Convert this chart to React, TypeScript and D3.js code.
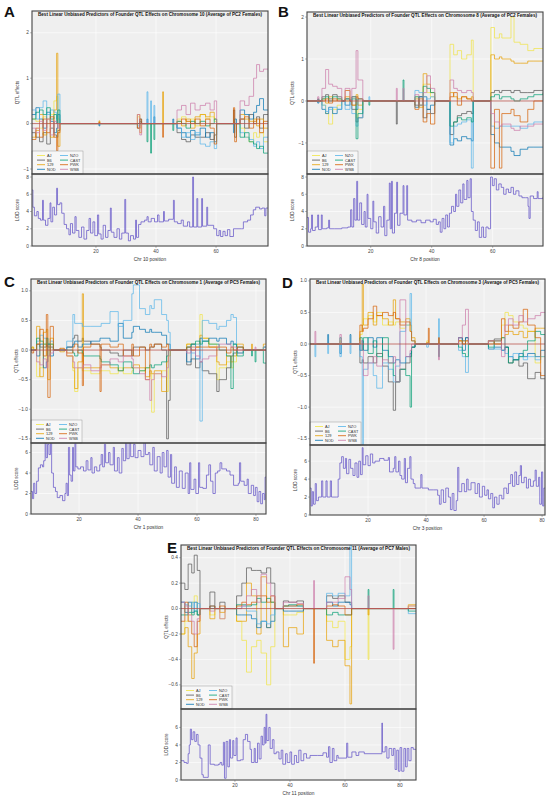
import React from "react";
import * as d3 from "d3";

// founder strains and their colours
const founders = ["AJ", "B6", "129", "NOD", "NZO", "CAST", "PWK", "WSB"];
const founderColors = ["#F0E442", "#555555", "#E69F00", "#0072B2", "#56B4E9", "#009E73", "#D55E00", "#CC79A7"];

// effect rows: [position, AJ, B6, 129, NOD, NZO, CAST, PWK, WSB]; a row with only a position = all zero
const aEff = [
  [-1.3, 0.1, -0.2, -0.3, 0.2, 0.3, 0.1, -0.35, -0.1],
  [0.0, 0.05, -0.3, -0.15, 0.35, 0.1, 0.25, -0.1, -0.2],
  [1.2, -0.1, -0.4, 0.2, 0.1, 0.35, 0.3, -0.3, 0.05],
  [2.4, 0.15, -0.2, -0.25, -0.1, 0.5, 0.2, 0.1, -0.15],
  [3.6, 0, -0.45, 0.1, 0.25, 0.2, 0.35, -0.2, 0.1],
  [4.8, 0.2, -0.1, -0.3, 0.05, 0.3, 0.1, 0.15, -0.25],
  [6.0, 0.5, -0.25, 0.3, -0.2, 0.25, 0.2, -0.3, 0.05],
  [6.9, 0.6, -0.3, 1.55, -0.1, 0.1, 0, -0.6, 0],
  [7.3, 0.1, -0.15, -0.5, 0.2, 0.65, 0.3, -0.2, -0.1],
  [8.0],
  [21.0, 0, 0, 0.06, -0.05, 0, 0, 0.03, 0], [21.3],
  [33.8, 0.15, -0.1, 0.2, 0, -0.05, 0, -0.1, 0.2],
  [34.6, -0.1, 0.05, -0.2, 0.1, 0, 0, 0.1, -0.25],
  [35.2],
  [37.0, 0, 0, 0, 0.1, 0.7, -0.4, 0, 0], [37.3],
  [38.2, 0, 0, 0, 0, 0.5, -0.65, 0, 0], [38.5],
  [39.3, 0, 0, 0, 0.15, 0.4, -0.35, 0, 0], [39.6],
  [42.2, 0, 0, 0.7, 0, 0, 0, -0.3, 0], [42.5],
  [45.6, 0, 0, 0, 0.1, 0, -0.15, 0, 0], [45.9],
  [47.0, 0.1, -0.2, 0.05, -0.1, -0.1, 0.05, 0, 0.3],
  [48.5, 0.15, -0.35, -0.05, -0.2, -0.3, 0, 0.1, 0.4],
  [50.0, 0.05, -0.4, 0.1, -0.3, -0.2, -0.1, 0.05, 0.2],
  [51.5, 0.1, -0.25, -0.1, -0.15, -0.35, 0.05, 0, 0.45],
  [53.0, -0.05, -0.3, 0.15, -0.25, -0.2, 0, 0.1, 0.3],
  [54.7, 0.2, -0.3, 0.2, -0.1, -0.45, 0.05, -0.05, 0.4],
  [56.5, 0.1, -0.2, 0.15, -0.3, -0.5, -0.05, 0.1, 0.45],
  [58.0, 0.15, -0.35, 0.25, -0.2, -0.4, 0, -0.1, 0.3],
  [59.4, 0.05, -0.25, 0.1, -0.4, -0.55, 0.1, -0.45, 0.5],
  [60.2],
  [65.8, 0, 0.3, 0, -0.2, 0, 0, 0.35, 0],
  [66.2, 0, -0.3, 0, 0.1, 0, 0, -0.4, 0],
  [66.8],
  [68.0, -0.1, 0.1, 0.2, 0.3, -0.2, -0.3, 0.1, 0.5],
  [69.5, -0.3, -0.1, 0.1, 0.2, -0.3, -0.2, 0.15, 0.4],
  [71.0, -0.4, 0.2, 0.05, 0.1, -0.35, -0.4, -0.1, 0.6],
  [72.5, -0.2, 0, 0.1, 0.25, -0.5, -0.45, 0.05, 1.0],
  [73.5, -0.3, 0.15, -0.05, 0.4, -0.4, -0.55, 0.1, 1.3],
  [74.5, -0.2, -0.1, 0.1, 0.55, -0.55, -0.5, -0.2, 1.15],
  [75.8, -0.4, 0.2, -0.1, 0.3, -0.3, -0.65, 0.05, 1.2],
  [77.3, -0.4, 0.2, -0.1, 0.3, -0.3, -0.65, 0.05, 1.2],
];

const bEff = [
  [-0.9],
  [2.6, 0, 0.05, 0, -0.05, 0, 0.03, 0, 0.1], [3.0],
  [4.0, -0.1, 0.1, 0.05, -0.2, -0.1, 0.05, 0, 0.3],
  [5.2, -0.3, 0.15, -0.05, -0.3, -0.25, 0.1, 0.05, 0.75],
  [6.2, -0.55, 0.05, 0.1, -0.15, -0.2, 0, -0.05, 0.4],
  [7.5, -0.2, 0.15, 0, -0.3, -0.15, 0.1, 0.05, 0.35],
  [9.0, -0.1, 0.1, 0.05, -0.2, -0.2, 0.05, 0, 0.3],
  [10.5],
  [11.6, 0, 0.05, 0.1, -0.1, -0.2, 0.05, 0.25, 0.3],
  [13.2],
  [13.8, -0.1, -0.2, 0.1, 0.1, -0.3, 0.05, -0.1, 0.3],
  [15.2, -0.4, -0.5, 0.15, -0.2, -0.6, -0.9, 0.1, 1.2],
  [15.8, -0.2, -0.4, -0.1, 0.05, -0.4, -0.3, 0.05, 0.5],
  [17.4],
  [19.4, 0, 0, 0, 0, 0.1, -0.1, 0, 0], [19.7],
  [28.4, 0, -0.55, 0, 0, 0, 0, 0, 0.3], [28.7],
  [30.6, 0, 0, 0, 0, 0, 0.5, 0, 0.3], [30.9],
  [34.5, 0.1, -0.1, 0.05, -0.15, 0.25, 0.1, -0.2, 0.15],
  [35.8, -0.1, 0.1, -0.15, 0.1, 0.2, -0.1, 0.05, -0.1],
  [37.2, 0.4, -0.4, 0.65, 0.1, -0.1, 0.35, -0.5, 0.2],
  [38.4, 0.2, -0.2, 0.4, -0.2, 0.05, 0.3, -0.3, 0.6],
  [39.6, 0.1, -0.3, 0.2, -0.1, 0.1, 0.2, -0.55, 0.3],
  [41.0],
  [46.0, 1.35, -0.8, 0.2, -1.05, -1.0, -0.6, 0.1, 0.5],
  [47.2, 1.1, -0.5, 0.1, -0.9, -0.6, -0.5, 0.2, 0.3],
  [48.4, 1.2, -0.35, 0.05, -0.95, -0.55, -0.4, -0.1, 0.25],
  [49.8, 1.0, -0.3, 0.1, -0.85, -0.5, -0.45, 0.1, 0.2],
  [51.5, 1.1, -0.25, 0.05, -0.9, -0.45, -0.4, 0.05, 0.25],
  [53.0, 1.45, -0.3, 0.1, -0.95, -1.6, -0.5, 0, 0.2],
  [53.6],
  [59.4, 1.75, 0.2, 1.1, -0.8, -0.6, 0.1, -1.6, -0.3],
  [60.6, 1.5, 0.25, 1.0, -1.0, -0.65, 0.15, -0.2, -0.5],
  [62.2, 1.6, 0.2, 1.05, -1.1, -0.6, 0.05, -1.6, -0.6],
  [63.0, 1.5, 0.25, 1.0, -1.1, -0.6, 0.1, -0.3, -0.55],
  [66.0, 2.0, 0.2, 0.95, -1.2, -0.6, 0.05, -0.2, -0.65],
  [67.0, 1.4, 0.25, 0.9, -1.3, -0.6, 0, -0.35, -0.7],
  [69.0, 1.35, 0.2, 0.9, -1.15, -0.65, 0.05, -0.5, -0.6],
  [71.5, 1.2, 0.2, 0.95, -1.1, -0.55, 0.1, -0.2, -0.6],
  [73.5, 1.25, 0.25, 0.95, -1.1, -0.5, 0.15, 0, -0.55],
  [76.5, 1.25, 0.25, 0.95, -1.1, -0.5, 0.2, 0, -0.55],
];

const cEff = [
  [3.7],
  [4.0, 0.05, 0, 0.05, 0, 0, 0, -0.05, 0], [4.6],
  [5.6, -0.45, 0.1, 0.4, -0.1, 0.15, 0.2, 0.1, -0.2],
  [6.7, -0.3, 0.05, -0.45, 0.1, 0.25, 0.15, 0.35, -0.25],
  [7.9, 0.1, 0.05, 0.3, -0.3, 0.2, 0.1, -0.1, -0.15],
  [8.9, -0.2, 0.1, 0.35, -0.2, 0.2, 0.2, 0.6, -0.3],
  [9.4, -0.1, 0.05, -0.5, 0.1, 0.1, 0.1, -0.8, -0.1],
  [10.2, 0.1, 0.05, 0.2, -0.1, 0.15, 0.1, 0.4, -0.05],
  [11.3],
  [13.5, 0.02, 0, -0.03, 0, 0, 0, 0.03, 0], [15.0],
  [15.8, -0.1, 0.05, -0.1, 0.05, 0.15, 0, -0.05, -0.1],
  [17.9, -0.35, 0.2, -0.3, 0.1, 0.6, -0.05, 0.05, -0.2],
  [18.5, -0.7, 0.25, -0.65, 0.15, 0.45, -0.1, 0.1, -0.3],
  [19.6, -0.3, 0.15, -0.2, 0.05, 0.45, 0, -0.05, -0.3],
  [21.1, -0.35, 0.2, 0.95, 0.1, 0.4, -0.05, -0.6, -0.3],
  [21.5, -0.35, 0.15, -0.3, 0.1, 0.4, -0.1, 0.05, -0.25],
  [24.0, -0.4, 0.1, -0.3, 0.15, 0.4, -0.1, 0.1, -0.35],
  [27.1, -0.35, 0.05, -0.3, 0.2, 0.4, -0.15, -0.7, -0.3],
  [27.5, -0.35, 0, -0.25, 0.2, 0.45, -0.2, 0.1, -0.25],
  [30.5, -0.4, -0.05, -0.3, 0.15, 0.65, -0.25, 0.05, -0.15],
  [33.3, -0.3, -0.1, -0.35, 0.45, 0.4, -0.35, 0.1, -0.2],
  [35.0, -0.4, 0, -0.3, 0.2, 0.5, -0.2, -0.1, -0.1],
  [37.9, -0.35, -0.1, -0.3, 0.3, 0.95, -0.3, 0.1, -0.15],
  [38.4, -0.3, 0.05, -0.25, 0.4, 1.1, -0.4, -0.1, -0.3],
  [40.5, -0.35, 0.05, -0.3, 0.35, 0.7, -0.35, 0.05, -0.4],
  [42.5, -0.3, 0, -0.45, 0.3, 0.6, -0.3, -0.5, -0.5],
  [44.0, -0.4, 0.05, -0.35, 0.35, 0.75, -0.25, 0.1, -0.85],
  [44.6, -1.05, 0.05, -0.4, 0.3, 0.7, -0.3, 0.05, -0.5],
  [45.5, -0.4, 0.1, -0.35, 0.3, 0.85, -0.25, 0.1, -0.4],
  [48.0, -0.35, 0, -0.7, 0.25, 0.6, -0.2, 0.05, -0.45],
  [49.7, -0.7, -1.5, -0.2, 0.1, 0.5, -0.1, 0.1, -0.3],
  [50.3, -0.1, -0.85, 0, 0.1, 0.3, 0, 0, 0],
  [50.9],
  [56.5, 0.1, -0.25, 0.1, -0.2, 0.05, 0.05, 0.05, -0.05],
  [58.0, 0.05, -0.15, 0.1, 0.1, -0.05, 0.1, 0, 0.05],
  [59.5, 0.1, -0.3, 0.05, -0.15, 0.1, 0.15, 0.05, -0.1],
  [61.0, 0.6, -0.2, 0.25, 0.2, -1.2, 0.1, 0.05, -0.2],
  [61.8, 0.2, -0.35, 0.2, 0.15, 0.5, 0.15, 0.05, -0.15],
  [64.0, 0.1, -0.4, 0.05, 0.2, 0.45, 0.1, 0.05, -0.1],
  [66.7, -0.5, -0.7, -0.2, 0.15, 0.35, 0.1, 0.05, 0.05],
  [67.5, -0.3, -0.5, -0.25, 0.2, 0.4, 0, 0.05, 0.1],
  [70.0, -0.2, -0.3, -0.1, 0.1, 0.5, -0.1, -0.05, 0.1],
  [71.5, -0.3, -0.1, -0.2, 0.15, 0.6, -0.65, 0.05, 0.05],
  [72.3, -0.2, -0.05, -0.1, 0.1, 0.55, 0.1, 0, 0.05],
  [73.4],
  [73.6, 0.05, -0.05, 0.1, 0.05, -0.05, -0.1, 0.05, 0], [75.7],
  [78.5, 0, 0, 0.1, 0, 0, -0.1, 0, 0], [78.8],
  [79.7, 0, 0, 0, 0, 0, -0.2, 0, 0.05], [80.0],
  [82.5, 0, 0.05, 0.1, 0, 0.05, -0.22, 0, 0],
  [83.4, 0, 0.05, 0.1, 0, 0.05, -0.22, 0, 0],
];

const dEff = [
  [0],
  [1.7, 0, 0, 0, 0, -0.2, 0, 0, 0.2], [2.0],
  [6.1, 0, 0, 0, 0.15, -0.15, 0, 0, 0], [6.4],
  [10.3, 0.05, 0, 0, -0.15, -0.2, 0.1, 0, 0.15], [10.8],
  [13.8, 0, 0, 0, 0.15, -0.15, 0, 0, 0], [14.1],
  [17.2, 0.15, -0.3, 0.2, -0.1, -0.2, 0.1, 0.3, 0.05],
  [18.0, 0.3, -0.25, 0.95, 0.05, -1.6, -0.1, 0.2, -0.1],
  [18.4, 0.4, -0.3, 0.3, -0.1, -0.4, 0.1, 0.25, -0.5],
  [20.0, 0.45, -0.2, 0.5, 0.1, -0.3, -0.15, 0.4, -0.3],
  [21.8, 0.35, -0.3, 0.3, -0.05, -0.5, 0.05, 0.6, -0.2],
  [23.0, 0.5, -0.15, 0.45, 0.1, -0.7, -0.2, 0.45, -0.35],
  [25.0, 0.3, -0.35, 0.4, -0.1, -0.3, 0.1, 0.5, -0.25],
  [27.0, 0.35, -0.6, 0.3, -0.2, -0.4, -0.3, 0.45, -0.3],
  [28.7, 0.3, -1.05, 0.7, -0.3, -0.6, -0.5, 0.5, -0.2],
  [29.5, 0.35, -0.6, 0.4, -0.25, -0.35, -0.6, 0.4, -0.6],
  [31.0, 0.25, -0.4, 0.35, -0.3, 0.2, -0.4, 0.3, 0.7],
  [33.0, 0.3, -0.3, 0.4, -0.2, 0.3, -0.5, 0.35, -0.2],
  [34.5, 0.2, -0.2, 0.3, -0.15, 0.8, -1.0, 0.2, -0.1],
  [35.0, 0.05, -0.05, 0.1, -0.05, 0.05, -0.05, 0.05, 0],
  [36.2],
  [40.2, 0.05, 0, 0, 0, -0.05, 0, 0.02, 0], [40.8, 0, 0, 0, 0, 0, 0, 0.25, 0], [41.1],
  [44.3, 0, 0, 0, 0, 0.4, -0.2, 0.1, -0.25], [44.6],
  [51.2, 0.05, 0.1, 0.05, 0.1, -0.1, -0.05, 0.05, 0.1],
  [52.5, 0.05, 0.05, 0, -0.1, -0.2, -0.15, 0, 0.3],
  [53.6, 0, 0.1, 0.05, 0.1, -0.45, -0.2, 0.05, 0.55],
  [54.6],
  [61.5, 0.05, 0.05, 0, -0.08, 0.05, -0.05, 0.05, 0.05],
  [63.5, 0, 0.08, 0.05, -0.05, -0.08, 0.05, 0, 0.05],
  [66.0, 0.3, -0.1, 0.1, -0.1, -0.1, 0.1, 0.4, -0.2],
  [67.2, 0.5, -0.05, 0.15, -0.05, -0.15, -0.05, 0.2, 0.3],
  [68.4, 0.45, -0.3, 0.2, -0.2, -0.2, -0.3, 0.3, 0.4],
  [70.0, 0.35, -0.25, 0.15, -0.25, -0.15, -0.25, 0.25, 0.3],
  [72.0, 0.3, -0.35, 0.2, -0.15, -0.2, -0.2, 0.35, 0.45],
  [73.5, 0.25, -0.3, 0.1, -0.2, -0.25, -0.1, 0.55, 0.35],
  [75.0, 0.2, -0.55, 0.2, -0.15, -0.2, 0.05, 0.3, 0.4],
  [77.6, -0.3, -0.45, 0.25, -0.2, -0.25, 0.2, 0.1, 0.45],
  [79.5, -0.2, -0.55, 0.25, -0.1, -0.2, 0.15, -0.5, 0.5],
  [81.0, -0.2, -0.55, 0.25, -0.1, -0.2, 0.15, -0.5, 0.5],
];

const eEff = [
  [0.4, -0.2, 0.2, -0.2, 0.05, 0.05, -0.05, -0.1, 0.05],
  [1.8, -0.1, 0.15, -0.15, -0.03, 0.03, -0.05, 0.05, 0.02],
  [3.0, -0.05, 0.35, -0.3, 0.05, 0.02, -0.03, -0.1, -0.05],
  [4.3, 0.05, 0.28, -0.55, -0.03, 0.05, -0.05, -0.2, -0.1],
  [5.2, 0.1, 0.42, -0.35, 0.05, -0.02, -0.02, -0.3, -0.2],
  [6.3, -0.05, 0.3, -0.2, -0.05, 0.04, -0.05, -0.1, -0.08],
  [7.3],
  [10.9, -0.05, 0.13, -0.08, 0.02, 0, 0, 0.02, -0.02],
  [12.7],
  [14.5, -0.08, 0.05, -0.03, 0, 0, 0, 0.02, -0.08],
  [16.4],
  [20.6, -0.1, 0.1, -0.1, -0.05, 0, 0.03, 0.02, 0],
  [22.5, -0.25, 0.2, -0.1, -0.05, 0.02, 0.03, 0.05, 0.02],
  [24.2, -0.5, 0.32, 0.2, -0.05, -0.02, 0.02, 0.03, 0.1],
  [26.0, -0.3, 0.3, 0.1, -0.08, -0.02, 0.03, 0.05, 0.15],
  [27.9, -0.25, 0.3, -0.2, -0.15, -0.12, 0.08, 0.1, 0.05],
  [29.5, -0.35, 0.28, 0.25, -0.1, -0.1, 0.05, 0.1, 0.27],
  [31.5, -0.6, 0.32, -0.15, -0.15, -0.12, 0.08, 0.05, 0.2],
  [33.0, -0.3, 0.2, 0.05, -0.1, -0.05, 0.05, 0.1, 0.1],
  [34.5],
  [37.6, -0.05, 0.06, -0.3, -0.02, 0.02, 0.02, 0.02, 0.05],
  [39.5, -0.05, 0.05, -0.15, -0.02, 0.02, 0.03, 0.02, 0.05],
  [42.5, -0.03, 0.06, -0.2, -0.02, 0.02, 0.02, 0.03, 0.04],
  [44.9],
  [48.6, 0, 0, 0, 0, 0, 0, -0.43, 0.22], [48.9],
  [53.3, -0.1, 0.1, -0.25, 0.05, 0.12, -0.05, 0.02, 0.05],
  [55.5, -0.15, 0.08, -0.3, 0.02, 0.1, -0.03, 0.03, 0.05],
  [57.5, -0.1, 0.1, -0.25, 0.05, 0.12, -0.05, 0.02, 0.08],
  [60.0, -0.4, 0.05, -0.45, 0.05, 0.1, -0.05, -0.05, 0.25],
  [61.8, -0.3, 0.05, -0.75, 0.03, 0.5, -0.05, -0.05, 0.15],
  [62.4],
  [68.4, -0.4, 0, -0.05, 0, 0, 0.15, 0, 0.1], [68.7],
  [77.5, 0, 0, 0, 0, 0, 0.15, 0, -0.32], [77.8],
  [83.0, 0.02, 0, 0.03, 0, -0.04, -0.02, 0, 0.02],
  [85.8, 0.02, 0, 0.03, 0, -0.04, -0.02, 0, 0.02],
];

// LOD profiles: [position, LOD]
const aLod = [
  [-1.4, 6.5], [-1.0, 4.5], [-0.5, 3.5], [0.3, 4.0], [0.8, 3.2], [1.5, 3.0], [2.2, 5.3], [2.5, 3.0], [3.2, 2.4], [4.0, 3.2],
  [4.7, 5.0], [5.0, 2.8], [5.6, 4.5], [6.2, 3.6], [6.9, 6.7], [7.2, 4.8], [8.0, 5.0], [8.6, 3.8], [9.4, 2.5], [10.2, 2.0],
  [11, 1.3], [11.5, 2.6], [12.2, 1.5], [13, 3.4], [13.4, 1.8], [14.3, 1.0], [15.2, 2.2], [16, 0.8], [16.9, 1.8], [17.7, 3.2],
  [18.2, 1.5], [19, 2.8], [19.6, 1.2], [20.5, 3.6], [20.9, 1.4], [21.7, 0.8], [22.4, 2.4], [23.2, 1.0], [24.0, 1.8], [24.8, 4.4],
  [25.1, 1.6], [26, 1.0], [27, 2.0], [27.8, 0.8], [28.6, 1.5], [29.6, 5.4], [29.9, 1.5], [30.8, 0.6], [31.5, 1.2], [32.5, 0.8],
  [33.2, 3.0], [33.5, 1.0], [34.2, 2.5], [35.0, 2.8], [36.2, 3.0], [37, 3.4], [37.4, 2.8], [38.4, 3.2], [39.5, 2.8], [40.5, 3.6],
  [41, 2.8], [42.5, 4.0], [42.8, 2.9], [44.2, 3.1], [45.8, 5.3], [46.1, 2.8], [47.2, 2.6], [48.4, 3.0], [49.1, 2.3], [50.5, 2.8],
  [51.2, 2.2], [52.2, 8.0], [52.5, 2.2], [53.6, 5.5], [53.9, 2.2], [55.2, 5.5], [55.5, 2.3], [56.9, 4.5], [57.2, 2.4], [59.2, 2.0],
  [60.2, 1.2], [61, 1.8], [61.5, 1.1], [62.3, 1.7], [63.0, 1.2], [63.8, 1.9], [64.6, 1.1], [65.8, 2.0], [68.5, 2.0], [69.1, 2.8],
  [70.5, 3.0], [71.5, 3.6], [72.4, 4.2], [73.2, 4.5], [74.5, 4.3], [75.3, 4.4], [76.2, 3.5], [76.6, 4.4], [77.3, 4.4],
];

const bLod = [
  [-0.9, 3.3], [-0.4, 1.6], [0.3, 2.0], [0.6, 3.6], [0.9, 1.8], [1.8, 2.2], [2.6, 3.6], [2.9, 1.9], [3.8, 3.6], [4.1, 2.0],
  [5.6, 2.1], [6.2, 3.0], [6.5, 2.0], [8.2, 2.0], [10.5, 2.1], [12.5, 2.2], [13.4, 4.2], [13.8, 2.2], [14.4, 5.5], [14.8, 3.0],
  [15.4, 7.5], [15.7, 3.0], [16.4, 5.0], [17.0, 2.5], [17.8, 4.0], [18.2, 2.2], [18.8, 6.0], [19.1, 3.2], [20.0, 2.0], [20.7, 5.2],
  [21.0, 2.8], [21.8, 1.5], [22.6, 3.4], [23.4, 2.2], [24.2, 4.6], [24.6, 1.2], [25.3, 3.0], [26.1, 7.3], [26.4, 2.0], [26.8, 7.5],
  [27.1, 1.5], [27.8, 3.8], [28.5, 7.4], [28.8, 2.4], [29.6, 3.8], [30.6, 7.0], [30.9, 3.6], [31.8, 7.0], [32.1, 3.0], [33.5, 2.8],
  [35, 3.0], [36.5, 2.7], [38, 3.0], [39.5, 2.8], [40.5, 3.1], [41.5, 2.5], [42.2, 2.8], [42.8, 1.6], [43.4, 3.2], [44.0, 2.0],
  [44.6, 3.6], [45.2, 2.2], [45.8, 3.8], [46.5, 4.6], [47.2, 4.0], [47.8, 6.0], [48.2, 4.6], [48.9, 6.5], [49.5, 5.0], [50.2, 7.2],
  [50.6, 5.4], [51.5, 7.6], [51.9, 5.6], [52.6, 7.8], [53.0, 4.0], [53.6, 3.0], [54.3, 1.8], [55.0, 2.8], [55.6, 1.0], [56.4, 2.2],
  [57.0, 1.0], [57.8, 2.2], [58.5, 2.0], [59.3, 8.0], [59.9, 7.0], [60.5, 7.8], [61.2, 6.5], [62.0, 7.2], [62.8, 6.8], [63.6, 6.0],
  [64.4, 6.6], [65.2, 6.2], [66.0, 6.8], [66.8, 6.0], [67.6, 6.4], [68.6, 5.8], [69.6, 5.6], [70.8, 5.6], [71.6, 4.6], [71.9, 3.2],
  [72.3, 5.8], [73.4, 5.5], [74.6, 6.3], [74.9, 5.5], [76.5, 5.7],
];

const cLod = [
  [3.7, 2.2], [4.2, 1.5], [4.6, 3.0], [5.0, 2.0], [5.6, 3.2], [6.2, 4.5], [6.9, 4.8], [7.6, 4.6], [8.0, 5.2], [8.5, 7.2],
  [8.8, 5.5], [9.3, 6.8], [9.8, 5.8], [10.3, 7.2], [10.7, 4.0], [11.3, 2.6], [12.0, 2.2], [12.6, 1.6], [13.5, 1.8], [14.4, 1.3],
  [15.2, 2.0], [15.6, 3.0], [16.0, 1.8], [16.4, 6.5], [16.8, 3.8], [17.3, 3.2], [17.8, 6.5], [18.1, 4.2], [18.6, 7.3], [18.9, 4.6],
  [19.6, 4.4], [20.5, 4.6], [21.5, 4.2], [22.4, 5.2], [23.0, 4.3], [24.0, 5.5], [24.4, 4.0], [25.2, 4.6], [26.0, 4.2], [27.0, 4.8],
  [27.5, 5.8], [28.0, 4.6], [28.6, 6.8], [29.0, 5.0], [30.0, 6.0], [30.5, 4.8], [31.6, 6.5], [32.0, 4.2], [33.0, 5.5], [33.6, 4.0],
  [34.5, 6.4], [35.0, 5.2], [35.8, 7.0], [36.2, 5.4], [37.0, 7.5], [37.5, 5.6], [38.5, 6.8], [39.0, 5.5], [40.0, 6.2], [41.0, 5.6],
  [42.0, 7.0], [42.5, 5.8], [43.5, 6.0], [44.0, 4.8], [45.0, 6.5], [45.5, 4.2], [46.5, 5.6], [47.5, 4.0], [48.2, 6.0], [48.8, 4.6],
  [49.7, 6.2], [50.2, 3.6], [51.0, 5.8], [51.4, 3.0], [52.4, 4.6], [53.0, 2.6], [54.0, 4.2], [55.0, 2.5], [56.0, 4.0], [57.0, 2.0],
  [57.5, 5.0], [57.9, 2.4], [59.0, 3.4], [59.6, 2.0], [60.5, 5.0], [60.9, 2.6], [62.0, 2.5], [63.2, 3.8], [64.0, 4.8], [64.6, 3.2],
  [65.4, 2.0], [66.2, 4.0], [67.0, 4.2], [67.8, 5.0], [68.4, 4.4], [70.0, 4.2], [71.2, 3.8], [72.4, 2.8], [74.0, 3.0], [74.4, 5.0],
  [74.8, 3.2], [76.0, 2.8], [77.0, 3.4], [77.4, 2.0], [78.4, 2.8], [79.2, 1.8], [79.8, 2.6], [80.4, 1.2], [81.0, 2.2], [81.6, 1.0],
  [82.2, 2.0], [82.8, 1.4], [83.1, 3.6], [83.4, 3.6],
];

const dLod = [
  [0, 3.0], [0.4, 1.0], [0.8, 2.6], [1.2, 1.2], [1.8, 3.5], [2.2, 1.6], [2.9, 2.0], [4.0, 3.8], [4.4, 2.0], [5.5, 3.8],
  [5.9, 2.0], [7.0, 3.8], [7.4, 2.0], [9.2, 2.0], [9.7, 4.0], [10.3, 5.8], [10.9, 6.5], [11.5, 5.2], [12.2, 6.3], [12.6, 4.6],
  [13.4, 6.2], [14.0, 5.2], [14.8, 4.4], [15.5, 5.8], [16.2, 4.2], [16.8, 6.0], [17.4, 4.5], [18.0, 7.5], [18.3, 5.6], [19.2, 6.6],
  [20.0, 5.5], [20.8, 6.8], [21.6, 5.8], [22.4, 6.0], [24.0, 6.3], [25.5, 6.1], [27.0, 6.4], [27.4, 4.8], [28.7, 5.2], [29.2, 6.5],
  [29.6, 4.8], [30.5, 6.0], [31.0, 4.4], [31.6, 4.0], [32.5, 6.3], [32.9, 3.6], [33.6, 5.2], [34.4, 6.5], [34.8, 4.0], [35.6, 3.5],
  [36.2, 3.0], [37.8, 3.0], [38.2, 4.5], [38.6, 3.0], [40.8, 2.8], [42.5, 2.8], [44.0, 2.2], [44.6, 1.2], [45.2, 2.8], [46.0, 1.4],
  [46.8, 3.0], [47.7, 2.0], [48.4, 0.6], [49.0, 2.4], [49.6, 0.5], [50.4, 1.6], [50.9, 5.3], [51.3, 2.6], [52.3, 3.5], [53.2, 2.6],
  [54.0, 4.0], [54.5, 2.8], [55.5, 3.6], [56.9, 2.4], [57.8, 3.5], [58.4, 2.0], [59.4, 3.2], [60.2, 2.2], [61.0, 2.8], [61.5, 1.8],
  [62.3, 2.4], [63.0, 0.8], [63.6, 2.0], [64.4, 1.2], [65.2, 2.2], [66.1, 1.8], [66.8, 3.0], [67.8, 2.4], [68.4, 3.5], [69.2, 4.5],
  [69.8, 3.2], [70.6, 4.8], [71.2, 3.4], [72.0, 4.4], [72.5, 5.5], [72.9, 3.6], [73.8, 4.2], [74.6, 3.0], [75.3, 4.0], [76.0, 3.2],
  [77.0, 3.8], [77.6, 5.0], [78.0, 3.2], [78.8, 4.2], [79.2, 1.2], [79.8, 4.8], [80.2, 1.0], [80.6, 3.0], [81.0, 3.0],
];

const eLod = [
  [0.4, 2.2], [1.5, 2.0], [2.4, 1.9], [3.0, 3.0], [3.4, 4.0], [3.8, 5.8], [4.2, 4.6], [4.8, 5.5], [5.4, 4.4], [6.0, 5.2],
  [6.6, 4.0], [7.3, 2.5], [8.0, 0.6], [8.5, 0.3], [9.8, 0.3], [10.3, 4.0], [11.0, 1.8], [12.5, 1.7], [14.0, 1.8], [14.6, 2.0],
  [15.2, 1.7], [15.8, 4.3], [16.2, 0.2], [16.8, 4.4], [17.4, 1.5], [18.0, 4.6], [18.4, 2.5], [19.2, 4.5], [19.6, 2.8], [20.4, 4.8],
  [20.8, 2.2], [22.0, 2.3], [23.0, 4.6], [23.8, 5.2], [24.6, 4.4], [25.5, 3.5], [26.0, 2.0], [27.0, 3.6], [27.4, 2.0], [28.2, 4.2],
  [28.8, 2.4], [29.5, 5.0], [30.0, 4.0], [30.6, 6.0], [31.0, 4.2], [31.3, 7.5], [31.6, 4.5], [32.3, 6.0], [32.8, 3.6], [33.6, 4.6],
  [34.2, 3.0], [35.0, 3.2], [36.0, 2.4], [36.8, 3.4], [37.4, 1.8], [38.4, 3.0], [39.0, 2.0], [40.0, 3.2], [40.6, 1.8], [41.6, 2.8],
  [42.4, 2.0], [43.2, 3.4], [44.0, 2.2], [45.0, 3.0], [46.0, 2.5], [47.3, 2.8], [50.0, 2.8], [52.0, 3.1], [53.3, 2.6], [54.0, 3.8],
  [54.5, 2.0], [55.4, 3.6], [56.0, 2.2], [57.0, 2.8], [57.5, 2.5], [60.0, 2.5], [60.6, 4.2], [61.0, 2.6], [62.5, 3.2], [64.0, 2.8],
  [65.0, 3.2], [67.0, 3.0], [73.2, 3.0], [73.4, 6.5], [73.6, 3.2], [74.6, 3.8], [75.2, 2.5], [76.0, 3.6], [77.0, 2.8], [77.6, 3.6],
  [78.2, 1.2], [78.8, 3.4], [79.4, 1.0], [80.0, 3.7], [80.6, 1.0], [81.4, 3.6], [82.0, 1.5], [82.6, 3.6], [83.2, 2.2], [84.0, 3.7],
  [84.8, 3.5], [85.8, 3.5],
];

const titleStart = "Best Linear Unbiased Predictors  of Founder QTL Effects on Chromosome ";

interface PanelProps {
  id: string;
  letter: string;
  letterX: number;
  letterY: number;
  left: number;
  right: number;
  effTop: number;
  effBottom: number;
  lodBottom: number;
  xDomain: [number, number];
  effDomain: [number, number];
  lodDomain: [number, number];
  xTicks: number[];
  effTicks: number[];
  effFormat: (v: number) => string;
  lodTicks: number[];
  title: string;
  xTitle: string;
  eff: number[][];
  lod: number[][];
}

const Panel: React.FC<PanelProps> = (p) => {
  const x = d3.scaleLinear().domain(p.xDomain).range([p.left, p.right]);
  const yE = d3.scaleLinear().domain(p.effDomain).range([p.effBottom, p.effTop]);
  const yL = d3.scaleLinear().domain(p.lodDomain).range([p.lodBottom, p.effBottom]);

  const series = founders.map((_, k) =>
    p.eff.map((r) => [r[0], r.length > 1 ? r[k + 1] : 0] as [number, number])
  );
  const effLine = d3
    .line<[number, number]>()
    .x((d) => x(d[0]))
    .y((d) => yE(d[1]))
    .curve(d3.curveStepAfter);
  const lodLine = d3
    .line<number[]>()
    .x((d) => x(d[0]))
    .y((d) => yL(d[1]))
    .curve(d3.curveStepAfter);

  const w = p.right - p.left;
  const tickFont = 4.8;
  const lg = { x: p.left, y: p.effBottom - 23, w: 51, h: 23 };

  return (
    <g fontFamily="Liberation Sans, Arial, sans-serif">
      <defs>
        <clipPath id={`clipE${p.id}`}>
          <rect x={p.left} y={p.effTop} width={w} height={p.effBottom - p.effTop} />
        </clipPath>
        <clipPath id={`clipL${p.id}`}>
          <rect x={p.left} y={p.effBottom} width={w} height={p.lodBottom - p.effBottom} />
        </clipPath>
      </defs>

      <text x={p.letterX} y={p.letterY} fontSize={15} fontWeight="bold" fill="#111">
        {p.letter}
      </text>

      {/* backgrounds + grid */}
      <rect x={p.left} y={p.effTop} width={w} height={p.lodBottom - p.effTop} fill="#EFEFEF" />
      {p.xTicks.map((t) => (
        <line key={`gx${t}`} x1={x(t)} x2={x(t)} y1={p.effTop} y2={p.lodBottom} stroke="#FFFFFF" strokeWidth={0.6} />
      ))}
      {p.effTicks.map((t) => (
        <line key={`ge${t}`} x1={p.left} x2={p.right} y1={yE(t)} y2={yE(t)} stroke="#FFFFFF" strokeWidth={0.6} />
      ))}
      {p.lodTicks.map((t) => (
        <line key={`gl${t}`} x1={p.left} x2={p.right} y1={yL(t)} y2={yL(t)} stroke="#FFFFFF" strokeWidth={0.6} />
      ))}

      {/* founder effects */}
      <g clipPath={`url(#clipE${p.id})`}>
        {series.map((s, k) => (
          <path key={founders[k]} d={effLine(s) || ""} fill="none" stroke={founderColors[k]} strokeWidth={0.7} />
        ))}
        <line x1={p.left} x2={p.right} y1={yE(0)} y2={yE(0)} stroke="#B5524A" strokeWidth={0.8} />
      </g>

      {/* LOD profile */}
      <g clipPath={`url(#clipL${p.id})`}>
        <path d={lodLine(p.lod) || ""} fill="none" stroke="#6656C8" strokeWidth={0.75} />
      </g>

      {/* legend */}
      <rect x={lg.x} y={lg.y} width={lg.w} height={lg.h} fill="#F7F7F7" stroke="#9A9A9A" strokeWidth={0.5} />
      {founders.map((f, k) => {
        const col = Math.floor(k / 4);
        const row = k % 4;
        const lx = lg.x + 5 + col * 23;
        const ly = lg.y + 4.5 + row * 4.6;
        return (
          <g key={`lg${f}`}>
            <line x1={lx} x2={lx + 8} y1={ly} y2={ly} stroke={founderColors[k]} strokeWidth={0.8} />
            <text x={lx + 10} y={ly + 1.4} fontSize={3.9} fill="#333">
              {f}
            </text>
          </g>
        );
      })}

      {/* frames */}
      <rect x={p.left} y={p.effTop} width={w} height={p.effBottom - p.effTop} fill="none" stroke="#444" strokeWidth={1.1} />
      <rect x={p.left} y={p.effBottom} width={w} height={p.lodBottom - p.effBottom} fill="none" stroke="#444" strokeWidth={1.1} />

      <text
        x={(p.left + p.right) / 2}
        y={p.effTop + 5.3}
        fontSize={4.8}
        fontWeight="bold"
        fill="#111"
        textAnchor="middle"
        textLength={w - 12}
        lengthAdjust="spacingAndGlyphs"
      >
        {p.title}
      </text>

      {/* axes */}
      {p.effTicks.map((t) => (
        <g key={`te${t}`}>
          <line x1={p.left - 2} x2={p.left} y1={yE(t)} y2={yE(t)} stroke="#555" strokeWidth={0.4} />
          <text x={p.left - 3} y={yE(t) + 1.6} fontSize={tickFont} fill="#444" textAnchor="end">
            {p.effFormat(t)}
          </text>
        </g>
      ))}
      {p.lodTicks.map((t) => (
        <g key={`tl${t}`}>
          <line x1={p.left - 2} x2={p.left} y1={yL(t)} y2={yL(t)} stroke="#555" strokeWidth={0.4} />
          <text x={p.left - 3} y={yL(t) + 1.6} fontSize={tickFont} fill="#444" textAnchor="end">
            {t}
          </text>
        </g>
      ))}
      {p.xTicks.map((t) => (
        <g key={`tx${t}`}>
          <line x1={x(t)} x2={x(t)} y1={p.lodBottom} y2={p.lodBottom + 2} stroke="#555" strokeWidth={0.4} />
          <text x={x(t)} y={p.lodBottom + 7} fontSize={tickFont} fill="#444" textAnchor="middle">
            {t}
          </text>
        </g>
      ))}
      <text
        transform={`translate(${p.left - 13},${(p.effTop + p.effBottom) / 2}) rotate(-90)`}
        fontSize={4.6}
        fill="#333"
        textAnchor="middle"
      >
        QTL effects
      </text>
      <text
        transform={`translate(${p.left - 13},${(p.effBottom + p.lodBottom) / 2}) rotate(-90)`}
        fontSize={4.6}
        fill="#333"
        textAnchor="middle"
      >
        LOD score
      </text>
      <text x={(p.left + p.right) / 2} y={p.lodBottom + 15} fontSize={4.8} fill="#333" textAnchor="middle">
        {p.xTitle}
      </text>
    </g>
  );
};

const fmt0 = (v: number) => d3.format("d")(v);
const fmt1 = (v: number) => d3.format(".1f")(v);

export default function App() {
  return (
    <svg
      width={550}
      height={801}
      viewBox="0 0 550 801"
      style={{ position: "absolute", left: 0, top: 0, background: "#FFFFFF" }}
    >
      <Panel
        id="A" letter="A" letterX={4} letterY={17}
        left={32} right={268} effTop={11} effBottom={174} lodBottom={246}
        xDomain={[-1.3, 77.3]} effDomain={[-1.11, 2.48]} lodDomain={[0, 8.35]}
        xTicks={[20, 40, 60]} effTicks={[-1, 0, 1, 2]} effFormat={fmt0} lodTicks={[0, 2, 4, 6, 8]}
        title={titleStart + "10 (Average of PC2 Females)"} xTitle="Chr 10 position"
        eff={aEff} lod={aLod}
      />
      <Panel
        id="B" letter="B" letterX={278} letterY={17}
        left={307} right={543} effTop={12} effBottom={174} lodBottom={246}
        xDomain={[-0.9, 76.5]} effDomain={[-1.74, 2.12]} lodDomain={[0, 8.35]}
        xTicks={[20, 40, 60]} effTicks={[-1, 0, 1, 2]} effFormat={fmt0} lodTicks={[0, 2, 4, 6, 8]}
        title={titleStart + "8 (Average of PC2 Females)"} xTitle="Chr 8 position"
        eff={bEff} lod={bLod}
      />
      <Panel
        id="C" letter="C" letterX={4} letterY={287}
        left={31} right={266} effTop={279} effBottom={443} lodBottom={514}
        xDomain={[3.7, 83.4]} effDomain={[-1.57, 1.2]} lodDomain={[0, 6.93]}
        xTicks={[20, 40, 60, 80]} effTicks={[-1.5, -1, -0.5, 0, 0.5, 1]} effFormat={fmt1} lodTicks={[0, 2, 4, 6]}
        title={titleStart + "1 (Average of PC5 Females)"} xTitle="Chr 1 position"
        eff={cEff} lod={cLod}
      />
      <Panel
        id="D" letter="D" letterX={282} letterY={288}
        left={310} right={545} effTop={279} effBottom={445} lodBottom={515}
        xDomain={[0, 81]} effDomain={[-1.6, 1.03]} lodDomain={[0, 7.8]}
        xTicks={[20, 40, 60, 80]} effTicks={[-1.5, -1, -0.5, 0, 0.5, 1]} effFormat={fmt1} lodTicks={[0, 2, 4, 6]}
        title={titleStart + "3 (Average of PC5 Females)"} xTitle="Chr 3 position"
        eff={dEff} lod={dLod}
      />
      <Panel
        id="E" letter="E" letterX={167} letterY={553}
        left={181} right={416} effTop={545} effBottom={709} lodBottom={780}
        xDomain={[0.4, 85.8]} effDomain={[-0.79, 0.5]} lodDomain={[0, 8.1]}
        xTicks={[20, 40, 60, 80]} effTicks={[-0.6, -0.4, -0.2, 0, 0.2, 0.4]} effFormat={fmt1} lodTicks={[0, 2, 4, 6]}
        title={titleStart + "11 (Average of PC7 Males)"} xTitle="Chr 11 position"
        eff={eEff} lod={eLod}
      />
    </svg>
  );
}
